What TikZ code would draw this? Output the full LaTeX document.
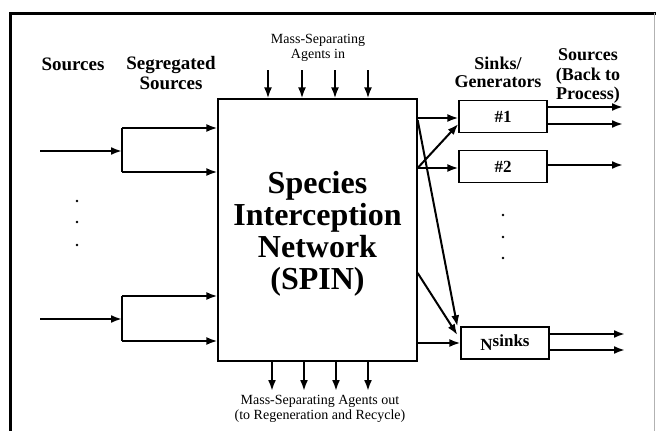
\documentclass[tikz,border=0pt]{standalone}
\usepackage{fontspec}
\setmainfont{Liberation Serif}
\usetikzlibrary{arrows.meta,calc}
\begin{document}
\begin{tikzpicture}[
    x=1pt,y=-1pt,
    flow/.style={-{Latex[length=11pt,width=8pt]},line width=2pt},
    line/.style={line width=2pt},
    net/.style={draw,line width=1.3pt,minimum width=199pt,minimum height=262pt,
        font=\fontsize{32}{32}\selectfont\bfseries,align=center},
    sink/.style={draw,line width=1.3pt,minimum width=88pt,minimum height=32pt,
        font=\fontsize{17}{17}\selectfont\bfseries},
    head/.style={font=\fontsize{19}{19.5}\selectfont\bfseries,align=center},
    msa/.style={font=\fontsize{14}{15}\selectfont,align=center},
    ]
\useasboundingbox (0,0) rectangle (656,431);

    %% Frame
    \draw[line width=3pt] (10,431) -- (10,13) -- (656,13);
    \draw[gray!60,thin] (654,13) -- (654,431);

    %% Network and sinks
    \node[net,text depth=-6pt] (spin) at (317.5,230) {Species\\Interception\\Network\\(SPIN)};
    \node[sink] (k1) at (503,116.5) {\#1};
    \node[sink] (k2) at (503,166.5) {\#2};
    \node[sink] (kn) at (505,343) {N\raisebox{4pt}{sinks}};

    % Headings
    \node[head] (src) at (73,64) {Sources};
    \node[head] (seg) at (171,73) {Segregated\\Sources};
    \node[head,font=\fontsize{18}{18}\selectfont\bfseries] (gen) at (498,72) {Sinks/\\Generators};
    \node[head,font=\fontsize{18}{19.5}\selectfont\bfseries] (back) at (588,76)
        {Sources\\(Back to\\Process)};
    \node[msa] (msain) at (318,48) {Mass-Separating\\Agents in};
    \node[msa] (msaout) at (320,409) {Mass-Separating Agents out\\(to Regeneration and Recycle)};

    %% Segregated sources
    \foreach \n/\y/\ya/\yb in {1/151/128/172, 2/319/296/341} {
        \coordinate (s\n) at (40,\y);
        \coordinate (j\n) at (122,\y);
        \draw[flow] (s\n) -- (j\n);
        \draw[line] (j\n |- 0,\ya) -- (j\n |- 0,\yb);
        \draw[flow] (j\n |- 0,\ya) -- (spin.west |- 0,\ya);
        \draw[flow] (j\n |- 0,\yb) -- (spin.west |- 0,\yb);
    }

    % Dots
    \foreach \y in {201,222,245} \fill (77,\y) circle (1.4pt);
    \foreach \y in {215,237,258} \fill (503,\y) circle (1.4pt);

    %% Mass-separating agents in and out
    \foreach \x in {268,302,335,368}
        \draw[flow] (\x,70) -- (spin.north -| \x,0);
    \foreach \x in {272,304,336,368}
        \draw[flow] (spin.south -| \x,0) -- (\x,391);

    %% Network to sinks
    \draw[flow] (spin.east |- 0,118) -- (k1.west |- 0,118);
    \draw[flow] (spin.east |- 0,168) -- (k2.west |- 0,168);
    \draw[flow] (spin.east |- 0,168) -- (k1.west |- 0,124);
    \draw[flow] (spin.east |- 0,120) -- ($(kn.north west)+(-3,0)$);
    \draw[flow] (spin.east |- 0,273) -- ($(kn.west)+(-3,-8)$);
    \draw[flow] (spin.east |- 0,343) -- (kn.west);

    %% Sinks back to process
    \draw[flow] (k1.east |- 0,107) -- (623,107);
    \draw[flow] (k1.east |- 0,124) -- (623,124);
    \draw[flow] (k2.east |- 0,165) -- (623,165);
    \draw[flow] (kn.east |- 0,334) -- (625,334);
    \draw[flow] (kn.east |- 0,350) -- (625,350);
\end{tikzpicture}
\end{document}
